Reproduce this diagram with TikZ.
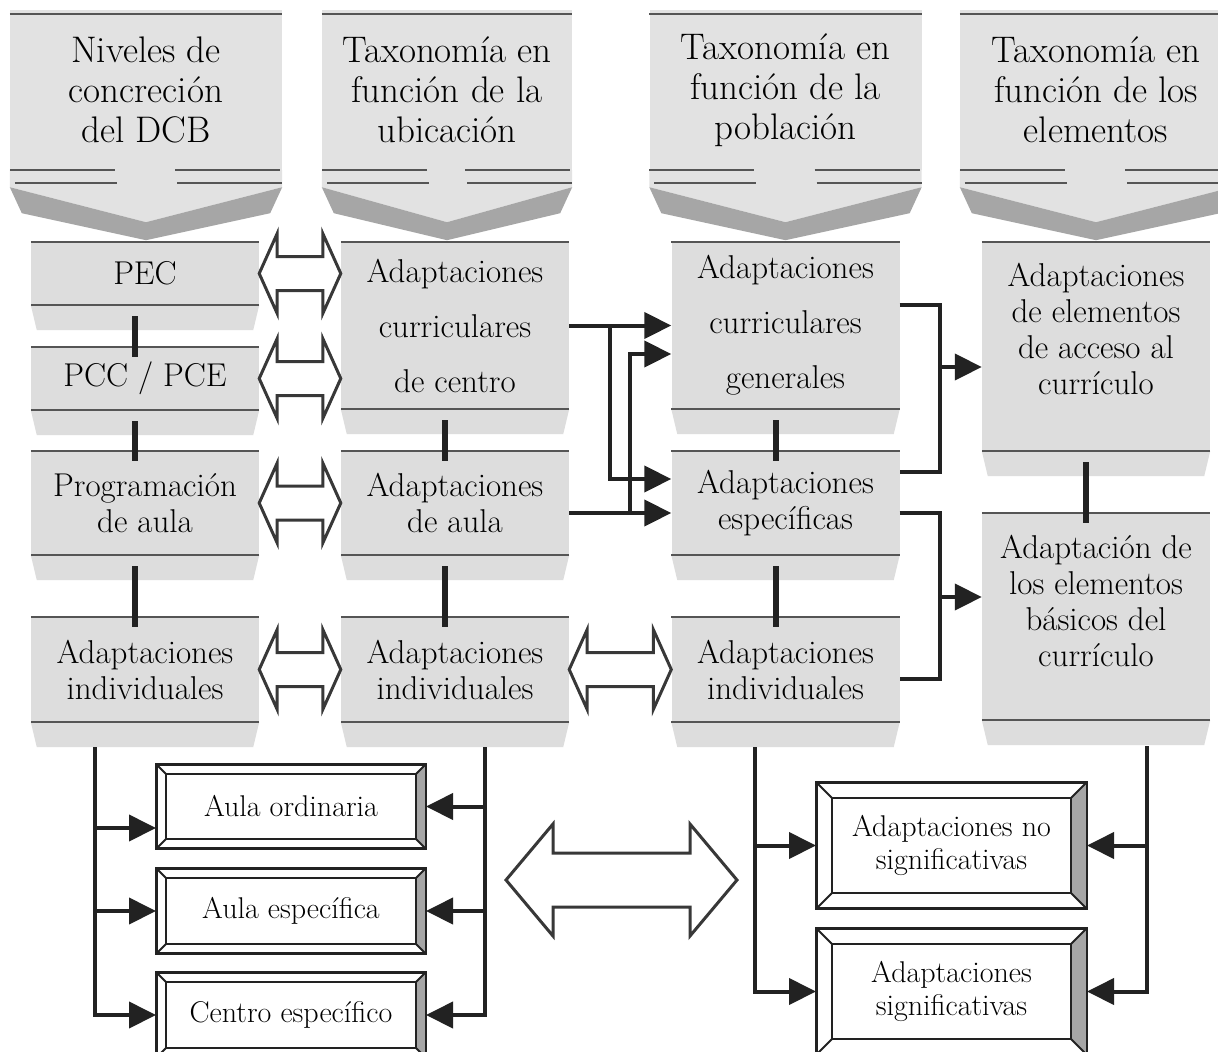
\documentclass[tikz,border=0pt]{standalone}
\usepackage{tikz}
\usetikzlibrary{arrows.meta,calc}

\definecolor{hdrgray}{HTML}{E2E2E2}
\definecolor{boxgray}{HTML}{DDDDDD}
\definecolor{chevgray}{HTML}{A6A6A6}
\definecolor{rulegray}{HTML}{555555}
\definecolor{ink}{HTML}{222222}

\tikzset{
  hdr/.style={rectangle, fill=hdrgray, minimum width=272pt, minimum height=160pt,
    align=center, inner sep=0pt, font=\fontsize{37}{40}\selectfont},
  lvl/.style={rectangle, fill=boxgray, minimum width=228pt, align=center,
    inner sep=0pt, font=\fontsize{33}{36}\selectfont},
  lvltext/.style={align=center, inner sep=0pt, font=\fontsize{33}{36}\selectfont},
  framebox/.style={rectangle, draw=ink, line width=2pt, fill=white, minimum width=268pt,
    align=center, inner sep=0pt, font=\fontsize{30}{33}\selectfont},
  rule/.style={draw=rulegray, line width=2.5pt},
  bar/.style={draw=ink, line width=6pt},
  conn/.style={draw=ink, line width=4pt},
  arr/.style={-{Triangle[length=27pt,width=26pt]}},
  hollowline/.style={draw=ink!90, line width=3pt},
  hollow/.style n args={3}{to path={let \p1=(\tikztostart), \p2=(\tikztotarget) in
    (\x1,\y1) -- (\x1+#1,\y1+#2) -- (\x1+#1,\y1+#3) -- (\x2-#1,\y1+#3) -- (\x2-#1,\y1+#2)
    -- (\x2,\y1) -- (\x2-#1,\y1-#2) -- (\x2-#1,\y1-#3) -- (\x1+#1,\y1-#3) -- (\x1+#1,\y1-#2) -- cycle}}
}

\begin{document}
\begin{tikzpicture}[x=1pt,y=-1pt]
\useasboundingbox (0,0) rectangle (1218,1052);
\fill[white] (0,0) rectangle (1218,1052);

\node[hdr] (h1) at (146,90) {Niveles de\\concreción\\del DCB};
\node[hdr, minimum width=250pt] (h2) at (447,90) {Taxonomía en\\función de la\\ubicación};
\node[hdr] (h3) at (785.5,90) {Taxonomía en\\función de la\\población};
\node[hdr] (h4) at (1096,90) {Taxonomía en\\función de los\\elementos};

\foreach \h in {h1,h2,h3,h4}{
  \fill[hdrgray] (\h.south west) -- (\h.south east) -- ([yshift=-17pt]\h.south east)
    -- ([yshift=-52pt]\h.south) -- ([yshift=-17pt]\h.south west) -- cycle;
  \fill[chevgray] ([yshift=-17pt]\h.south west) -- ([yshift=-52pt]\h.south)
    -- ([yshift=-17pt]\h.south east) -- ([shift={(-12,43)}]\h.south east)
    -- ([yshift=-70pt]\h.south) -- ([shift={(12,43)}]\h.south west) -- cycle;
  \draw[rule] ([yshift=-4pt]\h.north west) -- ([yshift=-4pt]\h.north east);
  \draw[rule] (\h.south west) -- ++(105,0);
  \draw[rule] ([xshift=-107pt]\h.south east) -- ++(105,0);
  \draw[rule] ([shift={(5,13)}]\h.south west) -- ++(102,0);
  \draw[rule] ([shift={(-105,13)}]\h.south east) -- ++(105,0);
}

\node[lvl, minimum height=63pt] (pec) at (145,273.5) {PEC};
\node[lvl, minimum height=63pt] (pcc) at (145,378.5) {PCC / PCE};
\node[lvl, minimum height=104pt] (prog) at (145,503) {Programación\\de aula};
\node[lvl, minimum height=105pt] (ind1) at (145,669.5) {Adaptaciones\\individuales};
\node[lvl, minimum height=167pt] (acc) at (455,325.5) {Adaptaciones\\[19pt]curriculares\\[19pt]de centro};
\node[lvl, minimum height=104pt] (aaula) at (455,503) {Adaptaciones\\de aula};
\node[lvl, minimum height=105pt] (ind2) at (455,669.5) {Adaptaciones\\individuales};
\node[lvl, minimum height=167pt] (acg) at (785.5,325.5) {Adaptaciones\\[19pt]curriculares\\[19pt]generales};
\node[lvl, minimum height=104pt] (aesp) at (785.5,503) {Adaptaciones\\específicas};
\node[lvl, minimum height=105pt] (ind3) at (785.5,669.5) {Adaptaciones\\individuales};
\node[lvl, minimum height=209pt,
  label={[lvltext,yshift=18pt]center:Adaptaciones\\de elementos\\de acceso al\\currículo}] (aacc) at (1096,346.5) {};
\node[lvl, minimum height=207pt,
  label={[lvltext,yshift=16pt]center:Adaptación de\\los elementos\\básicos del\\currículo}] (abas) at (1096,616.5) {};

\foreach \n in {pec,pcc,prog,ind1,acc,aaula,ind2,acg,aesp,ind3,aacc,abas}{
  \fill[boxgray] (\n.south west) -- (\n.south east) -- ([shift={(-6,25)}]\n.south east)
    -- ([shift={(6,25)}]\n.south west) -- cycle;
  \draw[rule] (\n.north west) -- (\n.north east);
  \draw[rule] (\n.south west) -- (\n.south east);
}

\draw[bar] ([shift={(-10,11)}]pec.south) -- ([shift={(-10,10)}]pcc.north);
\draw[bar] ([shift={(-10,11)}]pcc.south) -- ([shift={(-10,10)}]prog.north);
\draw[bar] ([shift={(-10,11)}]prog.south) -- ([shift={(-10,10)}]ind1.north);
\draw[bar] ([shift={(-10,11)}]acc.south) -- ([shift={(-10,10)}]aaula.north);
\draw[bar] ([shift={(-10,11)}]aaula.south) -- ([shift={(-10,10)}]ind2.north);
\draw[bar] ([shift={(-10,11)}]acg.south) -- ([shift={(-10,10)}]aesp.north);
\draw[bar] ([shift={(-10,11)}]aesp.south) -- ([shift={(-10,10)}]ind3.north);
\draw[bar] ([shift={(-10,11)}]aacc.south) -- ([shift={(-10,10)}]abas.north);

\draw[hollowline, hollow={18pt}{40pt}{17pt}] (pec.east) to (pec.east -| acc.west);
\draw[hollowline, hollow={18pt}{40pt}{17pt}] (pcc.east) to (pcc.east -| acc.west);
\draw[hollowline, hollow={18pt}{40pt}{17pt}] (prog.east) to (aaula.west);
\draw[hollowline, hollow={18pt}{40pt}{17pt}] (ind1.east) to (ind2.west);
\draw[hollowline, hollow={18pt}{40pt}{17pt}] (ind2.east) to (ind3.west);

\draw[conn,arr] (acc) -- (acg);
\coordinate (e1) at ([yshift=24pt]aesp.west);
\draw[conn,arr] ($(acc.east)!0.4!(acg.west)$) |- (e1);
\coordinate (a2) at ([yshift=-10pt]aaula.east);
\coordinate (e2) at ([yshift=-10pt]aesp.west);
\draw[conn,arr] (a2) -- (e2);
\coordinate (g2) at ([yshift=-28.5pt]acg.west);
\draw[conn,arr] ($(a2)!0.6!(e2)$) |- (g2);

\coordinate (g3) at ([yshift=20.5pt]acg.east);
\coordinate (e3) at ([yshift=31pt]aesp.east);
\draw[conn] (g3) -- ++(40,0) coordinate (k1) |- (e3);
\coordinate (c1) at ([yshift=-20.5pt]aacc.west);
\draw[conn,arr] (c1 -| k1) -- (c1);
\coordinate (e4) at ([yshift=-10pt]aesp.east);
\coordinate (i4) at ([yshift=-9.5pt]ind3.east);
\draw[conn] (e4) -- ++(40,0) coordinate (k2) |- (i4);
\coordinate (c2) at ([yshift=19.5pt]abas.west);
\draw[conn,arr] (c2 -| k2) -- (c2);

\node[framebox, minimum height=83pt] (aord) at (291,806.5) {Aula ordinaria};
\node[framebox, minimum height=84pt] (aulaesp) at (291,911) {Aula específica};
\node[framebox, minimum height=84pt] (cesp) at (291,1015) {Centro específico};
\node[framebox, minimum width=269pt, minimum height=125pt] (ans) at (951.5,845.5) {Adaptaciones no\\significativas};
\node[framebox, minimum width=269pt, minimum height=125pt] (asig) at (951.5,991.5) {Adaptaciones\\significativas};

\foreach \n/\b in {aord/10,aulaesp/10,cesp/10,ans/16,asig/16}{
  \fill[chevgray] (\n.north east) -- (\n.south east) -- ([shift={(-\b,-\b)}]\n.south east)
    -- ([shift={(-\b,\b)}]\n.north east) -- cycle;
  \draw[ink, line width=2pt] ([shift={(\b,\b)}]\n.north west) rectangle ([shift={(-\b,-\b)}]\n.south east);
  \draw[ink, line width=2pt] (\n.north west) -- ++(\b,\b);
  \draw[ink, line width=2pt] (\n.north east) -- ++(-\b,\b);
  \draw[ink, line width=2pt] (\n.south west) -- ++(\b,-\b);
  \draw[ink, line width=2pt] (\n.south east) -- ++(-\b,-\b);
  \draw[ink, line width=2pt] (\n.north west) rectangle (\n.south east);
}

\coordinate (t1) at ([shift={(-50,25)}]ind1.south);
\draw[conn,arr] (t1) |- (cesp.west);
\coordinate (o1) at ([yshift=-21.5pt]aord.west);
\draw[conn,arr] (o1 -| t1) -- (o1);
\draw[conn,arr] (aulaesp.west -| t1) -- (aulaesp.west);
\coordinate (t2) at ([shift={(30,25)}]ind2.south);
\draw[conn,arr] (t2) |- (cesp.east);
\draw[conn,arr] (aord.east -| t2) -- (aord.east);
\draw[conn,arr] (aulaesp.east -| t2) -- (aulaesp.east);

\coordinate (ml) at (506,880);
\coordinate (mr) at (737,880);
\draw[hollowline, hollow={47pt}{56pt}{27pt}] (ml) to (mr);

\coordinate (t3) at ([shift={(-30.5,25)}]ind3.south);
\draw[conn,arr] (t3) |- (asig.west);
\draw[conn,arr] (ans.west -| t3) -- (ans.west);
\coordinate (t4) at ([shift={(51,26)}]abas.south);
\draw[conn,arr] (t4) |- (asig.east);
\draw[conn,arr] (ans.east -| t4) -- (ans.east);
\end{tikzpicture}
\end{document}
